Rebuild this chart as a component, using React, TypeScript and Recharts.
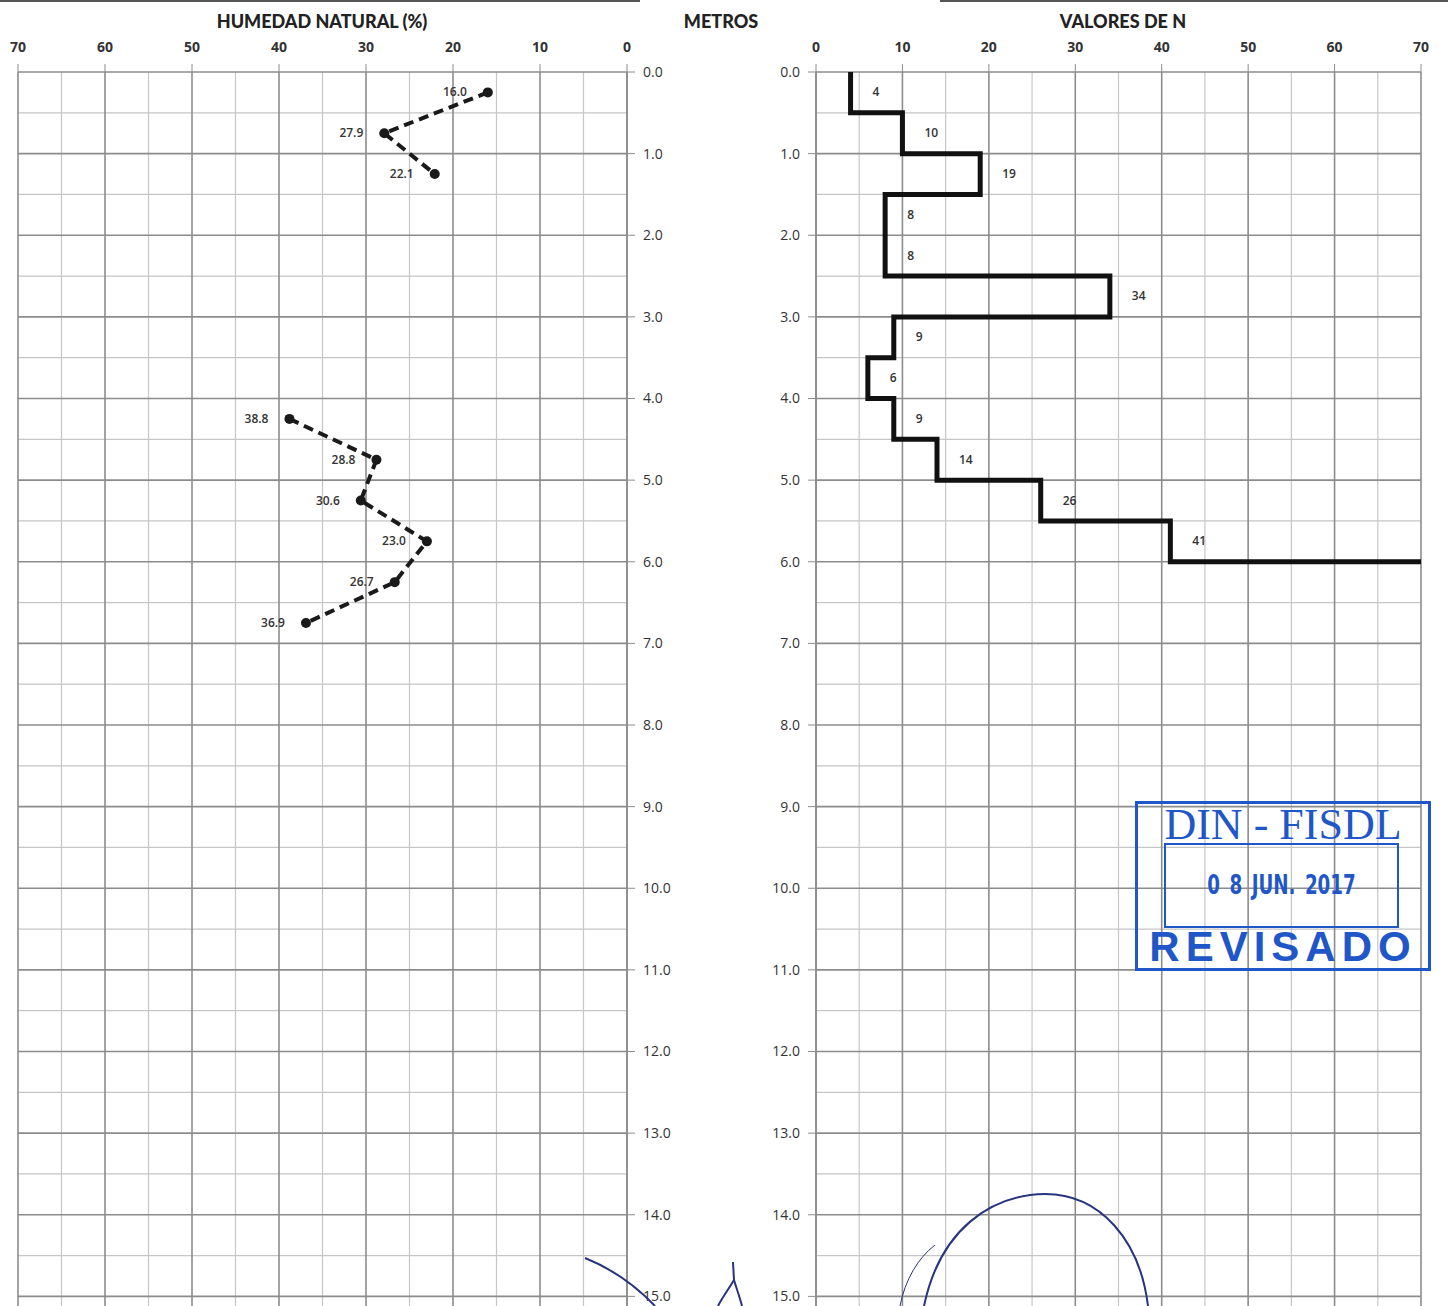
import { ScatterChart, Scatter, XAxis, YAxis, CartesianGrid } from 'recharts';

// Humedad natural (%) vs profundidad (m)
const humedadProf = [0.25, 0.75, 1.25, 4.25, 4.75, 5.25, 5.75, 6.25, 6.75];
const humedadVal = [16.0, 27.9, 22.1, 38.8, 28.8, 30.6, 23.0, 26.7, 36.9];

// Valores de N (SPT), cada tramo de 0.5 m
const nProfInicio = [0, 0.5, 1.0, 1.5, 2.0, 2.5, 3.0, 3.5, 4.0, 4.5, 5.0, 5.5];
const nVal = [4, 10, 19, 8, 8, 34, 9, 6, 9, 14, 26, 41];
const TRAMO = 0.5;
const N_RECHAZO = 70; // linea final hasta el borde a 6.0 m

const xTicks = [0, 10, 20, 30, 40, 50, 60, 70];
const xMinor = [5, 15, 25, 35, 45, 55, 65];
const depthTicks = [0, 1, 2, 3, 4, 5, 6, 7, 8, 9, 10, 11, 12, 13, 14, 15, 16];
const depthMinor = [0.5, 1.5, 2.5, 3.5, 4.5, 5.5, 6.5, 7.5, 8.5, 9.5, 10.5, 11.5, 12.5, 13.5, 14.5, 15.5];

const FONT = "'Open Sans', 'DejaVu Sans', sans-serif";
const TITLE_FONT = "Lato, 'Open Sans', sans-serif";
const CHART_H = 1390;
const MAJOR = '#8c8c8c';
const MINOR = '#c6c6c6';
const STAMP = '#1f57c9';

// split humidity points into dashed segments where depth jumps
const humSegments: { x: number; y: number }[][] = [];
humedadProf.forEach((p, i) => {
  const pt = { x: humedadVal[i], y: p };
  if (i === 0 || p - humedadProf[i - 1] > 1) humSegments.push([pt]);
  else humSegments[humSegments.length - 1].push(pt);
});

// step outline for N values
const nStep: { x: number; y: number }[] = [];
nVal.forEach((n, i) => {
  nStep.push({ x: n, y: nProfInicio[i] });
  nStep.push({ x: n, y: nProfInicio[i] + TRAMO });
});
nStep.push({ x: N_RECHAZO, y: nProfInicio[nProfInicio.length - 1] + TRAMO });

const nLabels = nVal.map((n, i) => ({ x: n, y: nProfInicio[i] + TRAMO / 2 }));

const HumPoint = (props: any) => {
  const { cx, cy, payload } = props;
  return (
    <g>
      <circle cx={cx} cy={cy} r={5} fill="#1a1a1a" />
      <text x={cx - 21} y={cy} dy={4} textAnchor="end" fontSize={12} fontWeight={600} fill="#333" fontFamily={FONT}>
        {payload.x.toFixed(1)}
      </text>
    </g>
  );
};

const NLabel = (props: any) => {
  const { cx, cy, payload } = props;
  return (
    <text x={cx + 22} y={cy} dy={4} textAnchor="start" fontSize={12} fontWeight={600} fill="#333" fontFamily={FONT}>
      {payload.x}
    </text>
  );
};

const NoShape = () => <g />;

const xTickStyle = { fontSize: 14, fontWeight: 700, fill: '#333', fontFamily: FONT };
const yTickStyle = { fontSize: 14, fill: '#333', fontFamily: FONT };

function Grid() {
  return (
    <>
      <CartesianGrid stroke={MINOR} strokeWidth={1.2} horizontalValues={depthMinor} verticalValues={xMinor} />
      <CartesianGrid stroke={MAJOR} strokeWidth={1.6} horizontalValues={depthTicks} verticalValues={xTicks} />
    </>
  );
}

export default function App() {
  return (
    <div style={{ position: 'absolute', left: 0, top: 0, width: 1448, height: 1306, overflow: 'hidden', background: '#fff', fontFamily: FONT }}>
      <div style={{ position: 'absolute', left: 0, top: 0, width: 640, height: 2, background: '#555' }} />
      <div style={{ position: 'absolute', left: 940, top: 0, width: 508, height: 2, background: '#555' }} />

      <div style={{ position: 'absolute', left: 160, width: 324, top: 10, textAlign: 'center', fontFamily: TITLE_FONT, fontWeight: 900, fontSize: 18, color: '#222' }}>
        HUMEDAD NATURAL (%)
      </div>
      <div style={{ position: 'absolute', left: 661, width: 120, top: 10, textAlign: 'center', fontFamily: TITLE_FONT, fontWeight: 900, fontSize: 18, color: '#222' }}>
        METROS
      </div>
      <div style={{ position: 'absolute', left: 1023, width: 200, top: 10, textAlign: 'center', fontFamily: TITLE_FONT, fontWeight: 900, fontSize: 18, color: '#222' }}>
        VALORES DE N
      </div>

      <div style={{ position: 'absolute', left: 0, top: 0 }}>
        <ScatterChart width={700} height={CHART_H} margin={{ top: 42, right: 13, bottom: 12, left: 18 }}>
          {Grid()}
          <XAxis type="number" dataKey="x" orientation="top" domain={[0, 70]} reversed ticks={xTicks} interval={0}
            height={30} tickSize={8} tickMargin={12} axisLine={false} tickLine={{ stroke: MAJOR }} tick={xTickStyle} />
          <YAxis type="number" dataKey="y" orientation="right" domain={[0, 16]} reversed ticks={depthTicks} interval={0}
            width={60} tickSize={8} tickMargin={8} axisLine={{ stroke: MAJOR, strokeWidth: 1.6 }} tickLine={{ stroke: MAJOR }}
            tick={yTickStyle} tickFormatter={(v: number) => v.toFixed(1)} />
          {humSegments.map((seg, i) => (
            <Scatter key={i} data={seg} isAnimationActive={false} shape={HumPoint}
              line={{ stroke: '#1a1a1a', strokeWidth: 4, strokeDasharray: '10 6' }} />
          ))}
        </ScatterChart>
      </div>

      <div style={{ position: 'absolute', left: 720, top: 0 }}>
        <ScatterChart width={728} height={CHART_H} margin={{ top: 42, right: 27, bottom: 12, left: 36 }}>
          {Grid()}
          <XAxis type="number" dataKey="x" orientation="top" domain={[0, 70]} ticks={xTicks} interval={0}
            height={30} tickSize={8} tickMargin={12} axisLine={false} tickLine={{ stroke: MAJOR }} tick={xTickStyle} />
          <YAxis type="number" dataKey="y" orientation="left" domain={[0, 16]} reversed ticks={depthTicks} interval={0}
            width={60} tickSize={8} tickMargin={8} axisLine={{ stroke: MAJOR, strokeWidth: 1.6 }} tickLine={{ stroke: MAJOR }}
            tick={yTickStyle} tickFormatter={(v: number) => v.toFixed(1)} />
          <Scatter data={nStep} isAnimationActive={false} shape={NoShape}
            line={{ stroke: '#111', strokeWidth: 5 }} />
          <Scatter data={nLabels} isAnimationActive={false} shape={NLabel} />
        </ScatterChart>
      </div>

      {/* sello de revision */}
      <div style={{ position: 'absolute', left: 1135, top: 801, width: 296, height: 170, border: `3px solid ${STAMP}`, boxSizing: 'border-box' }} />
      <div style={{ position: 'absolute', left: 1164, top: 843, width: 235, height: 85, border: `2px solid ${STAMP}`, boxSizing: 'border-box' }} />
      <div style={{ position: 'absolute', left: 1135, width: 296, top: 800, textAlign: 'center', fontFamily: "'Liberation Serif', serif", fontSize: 44, color: STAMP, lineHeight: '50px' }}>
        DIN - FISDL
      </div>
      <div style={{ position: 'absolute', left: 1164, width: 235, top: 870, textAlign: 'center', fontFamily: "'DejaVu Sans Condensed', 'Liberation Sans Narrow', sans-serif", fontWeight: 700, fontSize: 26, color: STAMP, lineHeight: '30px', transform: 'scaleX(0.78)', wordSpacing: 4 }}>
        0 8 JUN. 2017
      </div>
      <div style={{ position: 'absolute', left: 1137, width: 292, top: 925, textAlign: 'center', fontFamily: "'Liberation Sans', sans-serif", fontWeight: 700, fontSize: 42, letterSpacing: 6, color: STAMP, lineHeight: '44px' }}>
        REVISADO
      </div>

      {/* firma */}
      <svg width={1448} height={1306} style={{ position: 'absolute', left: 0, top: 0, pointerEvents: 'none' }}>
        <g fill="none" stroke="#27347f" strokeWidth={2}>
          <path d="M 924 1306 C 940 1230, 990 1195, 1045 1194 C 1100 1194, 1140 1240, 1148 1306" />
          <path d="M 900 1306 C 905 1280, 918 1258, 935 1245" strokeWidth={1} />
          <path d="M 585 1258 C 610 1268, 635 1285, 655 1306" />
          <path d="M 733 1262 L 734 1280 C 728 1290, 722 1298, 718 1306" />
          <path d="M 734 1280 C 737 1290, 740 1298, 742 1306" />
        </g>
      </svg>
    </div>
  );
}
